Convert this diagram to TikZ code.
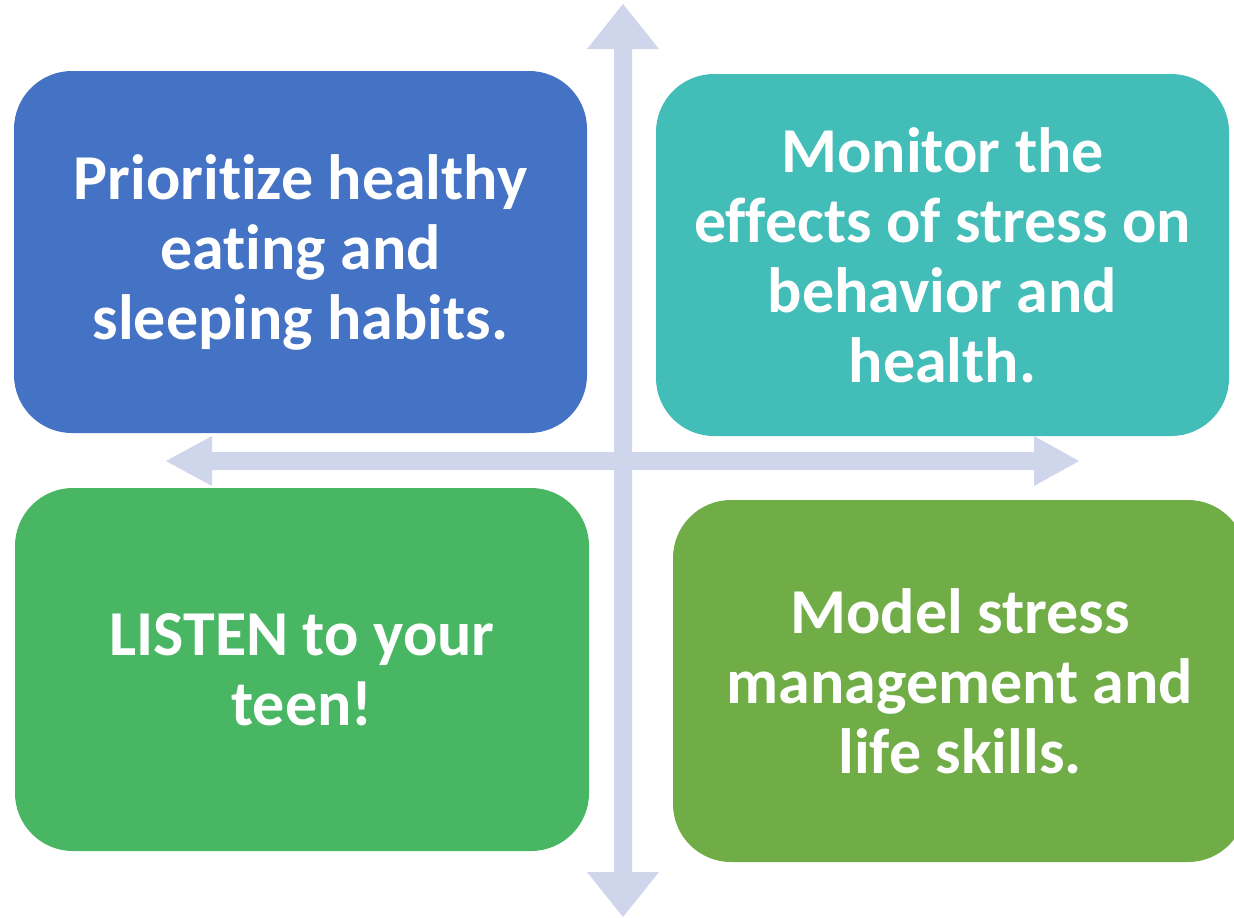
\documentclass[tikz,border=0pt]{standalone}
\usepackage{fontspec}
\setmainfont[RawFeature={-liga;-dlig;-clig}]{Carlito}
\definecolor{arrowc}{HTML}{CFD5EA}
\definecolor{boxa}{HTML}{4472C4}
\definecolor{boxb}{HTML}{43BDB8}
\definecolor{boxc}{HTML}{48B663}
\definecolor{boxd}{HTML}{70AD47}
\tikzset{
  card/.style={rounded corners=29pt},
  cardtext/.style={text=white, align=center, font=\fontsize{32}{35}\selectfont\bfseries, inner sep=0pt},
}
\begin{document}
\begin{tikzpicture}[x=0.5pt,y=-0.5pt]
\useasboundingbox (0,0) rectangle (1234,917);
\clip (0,0) rectangle (1234,917);
% arrows
\fill[arrowc] (623,4) -- (659,49) -- (632,49) -- (632,872) -- (659,872) -- (623,917) -- (587,872) -- (614,872) -- (614,49) -- (587,49) -- cycle;
\fill[arrowc] (166,461) -- (212,436) -- (212,452) -- (1034,452) -- (1034,436) -- (1079,461) -- (1034,486) -- (1034,470) -- (212,470) -- (212,486) -- cycle;
% boxes
\fill[boxa, card] (14,71) rectangle (587,433);
\fill[boxb, card] (656,74) rectangle (1229,436);
\fill[boxc, card] (15,488) rectangle (589,851);
\fill[boxd, card] (673,500) rectangle (1246,862);
% texts
\node[cardtext] (ta) at (300.5,252) {Prioritize healthy\\eating and\\sleeping habits.};
\node[cardtext] (tb) at (942.5,255) {Monitor the\\effects of stress on\\behavior and\\health.};
\node[cardtext] (tc) at (302,670) {LISTEN to your\\teen!};
\node[cardtext] (td) at (960,681) {Model stress\\management and\\life skills.};
\end{tikzpicture}
\end{document}
